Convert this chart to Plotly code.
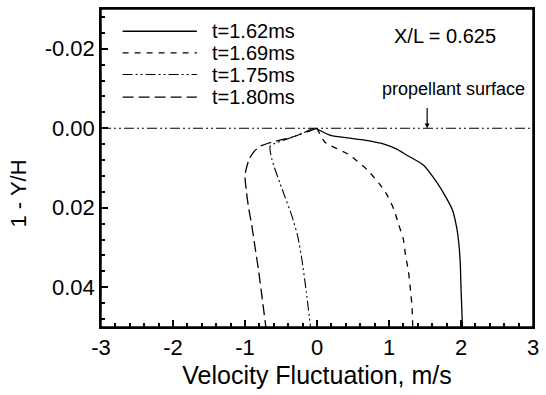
import plotly.graph_objects as go

# ---- data ----
SERIES_NAMES = ["t=1.62ms", "t=1.69ms", "t=1.75ms", "t=1.80ms"]

X_162 = [-0.02, 0.19, 0.45, 0.66, 0.93, 1.10, 1.25, 1.48, 1.66, 1.78, 1.88, 1.94, 1.97, 1.99, 2.00, 2.01, 2.02]
Y_162 = [0.0, 0.0018, 0.0025, 0.0030, 0.0040, 0.0052, 0.0068, 0.0093, 0.0135, 0.0170, 0.0205, 0.0250, 0.0290, 0.0340, 0.0400, 0.0450, 0.0500]

X_169 = [0.0, 0.11, 0.43, 0.70, 0.88, 0.98, 1.07, 1.13, 1.20, 1.23, 1.27, 1.30, 1.32, 1.33]
Y_169 = [0.0, 0.0035, 0.0065, 0.0105, 0.0143, 0.0170, 0.0205, 0.0240, 0.0280, 0.0320, 0.0360, 0.0410, 0.0450, 0.0500]

X_175 = [-0.05, -0.30, -0.65, -0.63, -0.58, -0.51, -0.45, -0.35, -0.27, -0.21, -0.15, -0.09]
Y_175 = [0.0, 0.0020, 0.0045, 0.0075, 0.0105, 0.0140, 0.0170, 0.0220, 0.0270, 0.0330, 0.0410, 0.0500]

X_180 = [0.0, -0.36, -0.63, -0.79, -0.88, -0.94, -0.98, -1.00, -0.98, -0.95, -0.91, -0.86, -0.81, -0.76, -0.71]
Y_180 = [0.0, 0.0023, 0.0035, 0.0045, 0.0060, 0.0077, 0.0100, 0.0120, 0.0160, 0.0200, 0.0240, 0.0300, 0.0360, 0.0430, 0.0500]

SURFACE_X = [-3, 3]
SURFACE_Y = [0.0, 0.0]

X_TICK_VALS = [-3, -2, -1, 0, 1, 2, 3]
X_TICK_LABELS = ["-3", "-2", "-1", "0", "1", "2", "3"]
Y_TICK_VALS = [-0.02, 0.0, 0.02, 0.04]
Y_TICK_LABELS = ["-0.02", "0.00", "0.02", "0.04"]

X_MINOR_VALS = [round(-3 + 0.2 * i, 2) for i in range(31)]
Y_MINOR_VALS = [round(-0.028 + 0.004 * i, 4) for i in range(20)]

X_RANGE = [-3, 3]
Y_RANGE = [0.05, -0.03]

# ---- styles ----
FONT = "Arial, Liberation Sans, Helvetica, sans-serif"
DASHES = ["solid", "6px,6px", "10px,3px,2px,3px,2px,3px", "11px,5px"]
WIDTHS = [1.3, 1.3, 1.1, 1.3]

fig = go.Figure()
series = [(X_162, Y_162), (X_169, Y_169), (X_175, Y_175), (X_180, Y_180)]
for (xs, ys), name, dash, w in zip(series, SERIES_NAMES, DASHES, WIDTHS):
    fig.add_trace(go.Scatter(x=xs, y=ys, mode="lines", name=name,
                             line=dict(color="black", width=w, dash=dash, shape="spline", smoothing=0.6),
                             showlegend=False))

fig.add_trace(go.Scatter(x=SURFACE_X, y=SURFACE_Y, mode="lines", name="propellant surface",
                         line=dict(color="black", width=1.1, dash="10px,3px,2px,3px,2px,3px"),
                         showlegend=False))

# custom legend (compact row spacing as in the reference)
legend_rows = [0.930, 0.862, 0.794, 0.723]
shapes = []
annotations = []
for name, dash, w, yp in zip(SERIES_NAMES, DASHES, WIDTHS, legend_rows):
    shapes.append(dict(type="line", xref="paper", yref="paper", x0=0.050, x1=0.222, y0=yp, y1=yp,
                       line=dict(color="black", width=w, dash=dash)))
    annotations.append(dict(xref="paper", yref="paper", x=0.252, y=yp, text=name, showarrow=False,
                            xanchor="left", yanchor="middle", font=dict(family=FONT, size=20, color="black")))

# plot frame
shapes.append(dict(type="rect", xref="paper", yref="paper", x0=0, x1=1, y0=0, y1=1,
                   line=dict(color="black", width=1.5), fillcolor="rgba(0,0,0,0)", layer="above"))

annotations.append(dict(x=1.78, y=-0.0233, text="X/L = 0.625", showarrow=False,
                        font=dict(family=FONT, size=20, color="black")))
annotations.append(dict(x=1.89, y=-0.0098, text="propellant surface", showarrow=False,
                        font=dict(family=FONT, size=18, color="black")))
annotations.append(dict(x=1.53, y=0.0, ax=1.53, ay=-0.0055, axref="x", ayref="y", text="",
                        showarrow=True, arrowhead=2, arrowsize=0.8, arrowwidth=1.2, arrowcolor="black"))
annotations.append(dict(xref="paper", yref="paper", x=-0.192, y=0.42, text="1 - Y/H", showarrow=False,
                        xanchor="center", yanchor="middle",
                        textangle=-90, font=dict(family=FONT, size=22, color="black")))

fig.update_layout(
    width=546, height=395,
    margin=dict(l=101, r=9, t=7, b=68),
    paper_bgcolor="white", plot_bgcolor="white",
    font=dict(family=FONT, size=21, color="black"),
    shapes=shapes, annotations=annotations,
    # overlay axes carrying the minor tick marks
    xaxis2=dict(overlaying="x", matches="x", anchor="y", side="bottom", tickmode="array",
                tickvals=X_MINOR_VALS, ticks="inside", ticklen=4, tickcolor="black", tickwidth=1.5,
                showticklabels=False, showgrid=False, zeroline=False, showline=False),
    yaxis2=dict(overlaying="y", matches="y", anchor="x", side="left", tickmode="array",
                tickvals=Y_MINOR_VALS, ticks="inside", ticklen=4, tickcolor="black", tickwidth=1.5,
                showticklabels=False, showgrid=False, zeroline=False, showline=False),
)
fig.layout.xaxis.update(range=X_RANGE, tickmode="array", tickvals=X_TICK_VALS, ticktext=X_TICK_LABELS,
                        showgrid=False, zeroline=False, showline=True, linecolor="black", linewidth=1.5,
                        mirror=True, ticks="inside", ticklen=7, tickcolor="black", tickwidth=1.5,
                        tickfont=dict(family=FONT, size=22),
                        title=dict(text="Velocity Fluctuation, m/s", font=dict(family=FONT, size=25), standoff=7))
fig.layout.yaxis.update(range=Y_RANGE, tickmode="array", tickvals=Y_TICK_VALS, ticktext=Y_TICK_LABELS,
                        showgrid=False, zeroline=False, showline=True, linecolor="black", linewidth=1.5,
                        mirror=True, ticks="inside", ticklen=7, tickcolor="black", tickwidth=1.5,
                        tickfont=dict(family=FONT, size=22))

# a hidden helper trace so the overlay axes get drawn
fig.add_trace(go.Scatter(x=SURFACE_X, y=SURFACE_Y, xaxis="x2", yaxis="y2", mode="lines",
                         line=dict(width=0), hoverinfo="skip", showlegend=False))

fig.write_html("out.html", post_script="document.body.style.margin='0';",
               config={"displayModeBar": False})
